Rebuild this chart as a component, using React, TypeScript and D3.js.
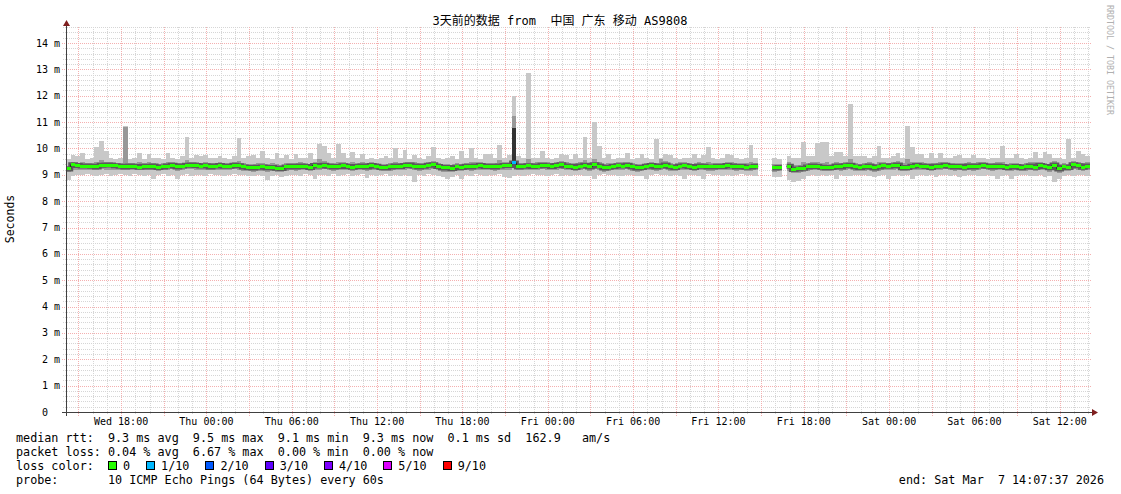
import React from 'react';
import * as d3 from 'd3';

// 3 days of smokeping data, 20 minute steps, end = Sat Mar 7 14:07:37 2026
const START = Date.UTC(2026, 2, 4, 14, 7, 37);
const END = Date.UTC(2026, 2, 7, 14, 7, 37);
const STEP = 20 * 60 * 1000;

// median rtt per step (ms), null = no data
const median = [
  9.22, 9.38, 9.35, 9.33, 9.33, 9.32, 9.30, 9.36, 9.37, 9.37, 9.34, 9.32,
  9.30, 9.33, 9.31, 9.29, 9.32, 9.30, 9.33, 9.28, 9.30, 9.33, 9.36, 9.30,
  9.33, 9.36, 9.37, 9.35, 9.33, 9.34, 9.30, 9.33, 9.35, 9.32, 9.32, 9.36,
  9.34, 9.30, 9.28, 9.26, 9.29, 9.30, 9.27, 9.28, 9.25, 9.24, 9.30, 9.32,
  9.30, 9.33, 9.31, 9.28, 9.35, 9.33, 9.36, 9.32, 9.30, 9.31, 9.34, 9.31,
  9.29, 9.31, 9.33, 9.30, 9.35, 9.32, 9.28, 9.27, 9.30, 9.33, 9.31, 9.35,
  9.37, 9.33, 9.30, 9.32, 9.36, 9.38, 9.31, 9.26, 9.28, 9.24, 9.30, 9.28,
  9.32, 9.30, 9.33, 9.35, 9.31, 9.32, 9.30, 9.33, 9.35, 9.35, 9.45, 9.30,
  9.32, 9.34, 9.31, 9.33, 9.36, 9.34, 9.31, 9.35, 9.38, 9.33, 9.31, 9.28,
  9.33, 9.36, 9.30, 9.38, 9.33, 9.26, 9.29, 9.31, 9.34, 9.33, 9.36, 9.30,
  9.26, 9.28, 9.32, 9.35, 9.30, 9.33, 9.37, 9.30, 9.28, 9.33, 9.34, 9.31,
  9.28, 9.33, 9.32, 9.30, 9.30, 9.32, 9.31, 9.35, 9.33, 9.30, 9.31, 9.29,
  9.30, 9.32, null, null, null, 9.26, 9.28, null, 9.32, 9.20, 9.22, 9.25,
  9.30, 9.33, 9.31, 9.29, 9.27, 9.28, 9.33, 9.30, 9.34, 9.36, 9.30, 9.28,
  9.30, 9.33, 9.26, 9.30, 9.34, 9.32, 9.34, 9.37, 9.27, 9.28, 9.32, 9.35,
  9.33, 9.31, 9.28, 9.32, 9.33, 9.36, 9.32, 9.30, 9.31, 9.29, 9.33, 9.30,
  9.33, 9.36, 9.32, 9.30, 9.33, 9.31, 9.28, 9.30, 9.31, 9.27, 9.30, 9.33,
  9.29, 9.35, 9.31, 9.27, 9.37, 9.22, 9.30, 9.28, 9.38, 9.34, 9.29, 9.33,
];

// slowest ping per step
const pingMax = [
  9.60, 9.75, 9.70, 9.83, 9.60, 9.65, 10.05, 10.28, 9.90, 9.65, 9.60, 9.62,
  10.85, 9.60, 9.65, 9.83, 9.60, 9.80, 9.62, 9.65, 9.60, 9.83, 9.65, 9.60,
  9.70, 10.43, 9.65, 9.75, 9.70, 9.75, 9.65, 9.62, 9.70, 9.65, 9.60, 9.72,
  10.40, 9.65, 9.70, 9.75, 9.65, 9.90, 9.62, 9.60, 9.83, 9.65, 9.76, 9.60,
  9.80, 9.62, 9.65, 9.83, 9.60, 10.17, 10.10, 9.83, 9.65, 10.17, 9.83, 9.62,
  9.87, 9.62, 9.80, 9.60, 9.65, 9.60, 9.62, 9.70, 9.65, 10.00, 9.65, 9.94,
  9.60, 9.76, 9.65, 9.60, 9.70, 10.05, 9.65, 9.60, 9.62, 9.70, 9.60, 9.90,
  9.62, 10.00, 9.65, 9.60, 9.80, 9.80, 9.62, 10.13, 9.65, 9.76, 12.00, 9.70,
  9.65, 12.86, 9.62, 9.65, 9.90, 9.62, 9.60, 9.65, 9.80, 9.76, 9.60, 9.80,
  9.65, 10.43, 9.62, 11.00, 10.10, 9.65, 9.80, 9.60, 9.62, 9.65, 9.83, 9.60,
  9.62, 9.80, 9.65, 9.60, 10.36, 9.65, 9.80, 9.76, 9.62, 9.60, 9.65, 9.62,
  9.80, 9.65, 9.76, 10.05, 9.62, 9.60, 9.65, 9.80, 9.76, 9.62, 9.60, 9.65,
  10.13, 9.62, null, null, null, 9.64, 9.60, null, 9.70, 9.65, 9.62, 10.25,
  9.70, 9.72, 10.20, 10.25, 10.25, 9.70, 9.87, 9.87, 9.70, 11.68, 9.70, 9.72,
  9.70, 9.65, 9.70, 10.10, 9.65, 9.62, 9.70, 9.83, 9.65, 10.85, 10.05, 9.80,
  9.80, 9.65, 9.83, 9.62, 9.83, 9.65, 9.62, 9.70, 9.76, 9.62, 9.65, 9.76,
  9.62, 9.65, 9.60, 9.62, 9.65, 10.10, 9.62, 9.65, 9.80, 9.62, 9.60, 9.65,
  9.87, 9.65, 9.87, 9.80, 9.65, 9.62, 9.60, 10.36, 9.65, 9.90, 9.80, 9.70,
];

// fastest ping per step
const pingMin = [
  8.80, 8.95, 9.00, 8.98, 9.02, 9.00, 8.97, 9.00, 9.02, 8.95, 9.00, 9.02,
  9.00, 8.97, 9.02, 9.00, 8.95, 8.98, 8.85, 9.00, 9.02, 8.97, 9.00, 8.85,
  9.00, 9.02, 8.97, 9.00, 9.00, 8.95, 9.02, 8.98, 9.00, 8.97, 9.00, 9.02,
  8.98, 9.00, 8.95, 8.97, 9.00, 8.95, 8.80, 8.95, 9.00, 8.92, 8.95, 8.98,
  9.00, 8.97, 9.02, 8.98, 8.85, 9.00, 9.00, 8.97, 9.02, 8.95, 9.00, 9.02,
  8.97, 9.00, 9.02, 8.88, 9.00, 8.97, 9.00, 9.02, 8.95, 9.00, 8.97, 9.00,
  8.95, 8.73, 9.00, 8.97, 9.02, 9.00, 8.95, 8.90, 8.85, 8.90, 9.00, 8.85,
  9.00, 8.97, 9.02, 9.00, 8.95, 9.00, 8.98, 9.02, 8.90, 8.88, 8.95, 9.00,
  8.97, 9.00, 9.02, 8.98, 9.00, 8.95, 9.00, 9.02, 8.97, 9.00, 8.95, 8.98,
  9.00, 8.97, 8.95, 8.85, 9.00, 9.02, 8.98, 9.00, 8.97, 8.95, 9.00, 9.00,
  8.97, 8.95, 8.85, 9.00, 9.02, 8.98, 9.00, 8.97, 9.00, 8.95, 8.85, 9.00,
  9.00, 8.97, 8.85, 9.02, 8.98, 9.00, 8.95, 9.00, 8.97, 9.00, 9.02, 8.98,
  9.00, 8.97, null, null, null, 8.90, 8.90, null, 8.80, 8.73, 8.75, 8.85,
  8.95, 9.00, 8.97, 9.00, 8.95, 8.98, 8.85, 9.00, 8.97, 8.95, 9.00, 8.98,
  9.00, 8.97, 8.90, 8.95, 8.98, 8.85, 8.97, 9.00, 8.95, 9.00, 8.85, 8.97,
  9.00, 8.97, 9.00, 8.90, 8.98, 9.00, 8.97, 9.00, 8.90, 8.95, 9.00, 8.98,
  8.95, 8.97, 9.00, 8.95, 8.85, 8.97, 9.00, 8.85, 8.97, 8.98, 9.00, 8.95,
  8.97, 9.00, 8.90, 8.95, 8.72, 8.85, 8.97, 9.00, 8.95, 8.98, 9.00, 8.97,
];

// inner smoke (2nd fastest / 2nd slowest ping)
const innerHigh = [
  9.35, 9.50, 9.45, 9.48, 9.44, 9.45, 9.50, 9.55, 9.50, 9.47, 9.44, 9.45,
  10.80, 9.46, 9.43, 9.50, 9.44, 9.47, 9.45, 9.42, 9.44, 9.48, 9.50, 9.44,
  9.46, 9.55, 9.50, 9.48, 9.45, 9.47, 9.43, 9.46, 9.50, 9.45, 9.44, 9.50,
  9.52, 9.44, 9.42, 9.40, 9.43, 9.45, 9.42, 9.44, 9.40, 9.38, 9.44, 9.46,
  9.45, 9.47, 9.44, 9.42, 9.50, 9.60, 9.52, 9.46, 9.44, 9.50, 9.48, 9.45,
  9.48, 9.44, 9.47, 9.44, 9.50, 9.45, 9.42, 9.41, 9.44, 9.50, 9.45, 9.50,
  9.50, 9.47, 9.44, 9.46, 9.50, 9.52, 9.45, 9.40, 9.42, 9.38, 9.44, 9.42,
  9.46, 9.48, 9.47, 9.50, 9.45, 9.46, 9.44, 9.55, 9.50, 9.48, 11.23, 9.45,
  9.46, 9.60, 9.45, 9.47, 9.50, 9.48, 9.45, 9.50, 9.52, 9.47, 9.45, 9.44,
  9.47, 9.55, 9.44, 9.60, 9.50, 9.40, 9.44, 9.45, 9.48, 9.47, 9.50, 9.44,
  9.40, 9.42, 9.46, 9.50, 9.44, 9.60, 9.52, 9.45, 9.42, 9.47, 9.48, 9.45,
  9.42, 9.47, 9.46, 9.50, 9.44, 9.46, 9.45, 9.50, 9.47, 9.44, 9.45, 9.43,
  9.50, 9.46, null, null, null, 9.40, 9.42, null, 9.48, 9.36, 9.38, 9.50,
  9.45, 9.48, 9.50, 9.45, 9.50, 9.42, 9.47, 9.44, 9.48, 9.60, 9.44, 9.42,
  9.45, 9.48, 9.40, 9.50, 9.48, 9.46, 9.48, 9.52, 9.45, 9.60, 9.50, 9.50,
  9.47, 9.45, 9.45, 9.46, 9.48, 9.50, 9.46, 9.44, 9.45, 9.43, 9.47, 9.45,
  9.47, 9.50, 9.46, 9.44, 9.47, 9.50, 9.42, 9.44, 9.45, 9.41, 9.44, 9.47,
  9.50, 9.50, 9.45, 9.42, 9.52, 9.38, 9.44, 9.42, 9.52, 9.48, 9.44, 9.47,
];

const innerLow = [
  9.10, 9.20, 9.20, 9.18, 9.20, 9.18, 9.20, 9.22, 9.20, 9.18, 9.17, 9.20,
  9.18, 9.20, 9.18, 9.17, 9.20, 9.17, 9.18, 9.15, 9.18, 9.20, 9.22, 9.16,
  9.20, 9.22, 9.22, 9.20, 9.18, 9.20, 9.17, 9.20, 9.20, 9.18, 9.18, 9.22,
  9.20, 9.16, 9.14, 9.12, 9.15, 9.16, 9.10, 9.14, 9.12, 9.10, 9.16, 9.18,
  9.16, 9.20, 9.18, 9.15, 9.20, 9.18, 9.22, 9.18, 9.16, 9.17, 9.20, 9.18,
  9.15, 9.18, 9.20, 9.16, 9.20, 9.18, 9.15, 9.14, 9.16, 9.20, 9.18, 9.20,
  9.22, 9.18, 9.16, 9.18, 9.20, 9.22, 9.17, 9.10, 9.12, 9.10, 9.16, 9.14,
  9.18, 9.16, 9.20, 9.20, 9.17, 9.18, 9.16, 9.20, 9.20, 9.20, 9.30, 9.17,
  9.18, 9.20, 9.17, 9.20, 9.22, 9.20, 9.17, 9.20, 9.22, 9.20, 9.17, 9.15,
  9.20, 9.22, 9.16, 9.22, 9.20, 9.12, 9.15, 9.17, 9.20, 9.20, 9.22, 9.16,
  9.12, 9.14, 9.18, 9.20, 9.16, 9.20, 9.22, 9.16, 9.14, 9.20, 9.20, 9.17,
  9.14, 9.20, 9.18, 9.16, 9.16, 9.18, 9.17, 9.20, 9.20, 9.16, 9.17, 9.15,
  9.16, 9.18, null, null, null, 9.12, 9.14, null, 9.15, 9.05, 9.08, 9.10,
  9.16, 9.20, 9.17, 9.15, 9.13, 9.15, 9.18, 9.16, 9.20, 9.22, 9.16, 9.14,
  9.16, 9.20, 9.12, 9.16, 9.20, 9.18, 9.20, 9.22, 9.13, 9.14, 9.18, 9.20,
  9.20, 9.17, 9.14, 9.18, 9.20, 9.22, 9.18, 9.16, 9.17, 9.15, 9.20, 9.16,
  9.20, 9.22, 9.18, 9.16, 9.20, 9.17, 9.14, 9.16, 9.17, 9.13, 9.16, 9.20,
  9.15, 9.20, 9.17, 9.12, 9.22, 9.08, 9.16, 9.14, 9.22, 9.20, 9.15, 9.18,
];

// steps with packet loss (index, lost pings of 10)
const lossStep = [94];
const lossCount = [1];
// steps where the core of the smoke went high
const darkStep = [94];
const darkTop = [10.78];

const lossLabels = ['0', '1/10', '2/10', '3/10', '4/10', '5/10', '9/10'];
const lossColors = ['#26ff00', '#00b8ff', '#0059ff', '#5e00ff', '#7e00ff', '#dd00ff', '#ff0000'];

const statsLines = [
  'median rtt:  9.3 ms avg  9.5 ms max  9.1 ms min  9.3 ms now  0.1 ms sd  162.9   am/s',
  'packet loss: 0.04 % avg  6.67 % max  0.00 % min  0.00 % now',
];
const probeLine = 'probe:       10 ICMP Echo Pings (64 Bytes) every 60s';
const endLine = 'end: Sat Mar  7 14:07:37 2026';
const title = '3天前的数据 from  中国 广东 移动 AS9808';

const MONO = '"DejaVu Sans Mono", monospace';
const CHAR_W = 7.08;

export default function App() {
  const x = d3.scaleUtc().domain([new Date(START), new Date(END)]).range([66, 1090]);
  const y = d3.scaleLinear().domain([0, 14.6]).range([412, 27.2]);
  const t0 = new Date(START), t1 = new Date(END);

  const hourTicks = d3.utcHour.every(1)!.range(t0, t1);
  const majorTicks = d3.utcHour.every(3)!.range(t0, t1);
  const labelTicks = d3.utcHour.every(6)!.range(t0, t1);
  const fmt = d3.utcFormat('%a %H:%M');
  const yMinor = d3.range(0, 74).map(k => k * 0.2);
  const yMajor = d3.range(0, 15);

  const sx = (i: number) => x(new Date(START + i * STEP));
  const crisp = (v: number) => Math.round(v) + 0.5;

  const lossOf = (i: number) => {
    const k = lossStep.indexOf(i);
    return k < 0 ? 0 : lossCount[k];
  };

  // median line (with vertical joins), broken where there is no data
  const medPts: [number, number | null][] = [];
  median.forEach((m, i) => {
    medPts.push([sx(i), m]);
    medPts.push([sx(i + 1), m]);
  });
  const medLine = d3.line<[number, number | null]>()
    .defined(d => d[1] != null)
    .x(d => d[0])
    .y(d => y(d[1] as number));

  const band = (lo: (number | null)[], hi: (number | null)[], fill: string, key: string) =>
    median.map((m, i) => {
      if (m == null || lo[i] == null || hi[i] == null) return null;
      const x0 = sx(i), x1 = sx(i + 1);
      return (
        <rect key={key + i} x={x0} width={x1 - x0} y={y(hi[i] as number)}
          height={y(lo[i] as number) - y(hi[i] as number)} fill={fill} />
      );
    });

  // loss legend layout
  let lx = 108;
  const legendItems = lossLabels.map((lab, k) => {
    const item = { x: lx, lab, color: lossColors[k] };
    lx += 15 + lab.length * CHAR_W + 16;
    return item;
  });

  return (
    <svg width={1121} height={494} style={{ position: 'absolute', left: 0, top: 0, background: '#fff' }}>
      <rect x={0} y={0} width={1121} height={494} fill="#ffffff" />

      {/* grid */}
      <g shapeRendering="crispEdges" strokeWidth={1} strokeDasharray="1,1">
        {yMinor.filter(v => Math.abs(v - Math.round(v)) > 0.01).map(v => (
          <line key={'hy' + v} x1={63} x2={1091} y1={crisp(y(v))} y2={crisp(y(v))} stroke="#d6d6d6" />
        ))}
        {hourTicks.filter(t => t.getUTCHours() % 3 !== 0).map(t => (
          <line key={'hx' + +t} x1={crisp(x(t))} x2={crisp(x(t))} y1={27} y2={414} stroke="#d6d6d6" />
        ))}
        {yMajor.slice(1).map(v => (
          <line key={'my' + v} x1={62} x2={1091} y1={crisp(y(v))} y2={crisp(y(v))} stroke="#f4b0b0" />
        ))}
        {majorTicks.map(t => (
          <line key={'mx' + +t} x1={crisp(x(t))} x2={crisp(x(t))} y1={27} y2={416} stroke="#f4b0b0" />
        ))}
      </g>

      {/* smoke */}
      <g shapeRendering="crispEdges">
        {band(pingMin, pingMax, '#c8c8c8', 'o')}
        {band(innerLow, innerHigh, '#989898', 'm')}
        {darkStep.map((i, k) => (
          <rect key={'d' + i} x={sx(i)} width={sx(i + 1) - sx(i)} y={y(darkTop[k])}
            height={y(median[i] as number) - y(darkTop[k])} fill="#333333" />
        ))}
      </g>

      {/* median */}
      <path d={medLine(medPts) || ''} fill="none" stroke="#5a5a5a" strokeWidth={5} />
      <path d={medLine(medPts) || ''} fill="none" stroke="#202020" strokeWidth={1} />
      <g shapeRendering="crispEdges">
        {median.map((m, i) => m == null ? null : (
          <rect key={'g' + i} x={sx(i)} width={sx(i + 1) - sx(i)} y={y(m) - 1.5} height={3}
            fill={lossColors[lossOf(i)]} />
        ))}
      </g>

      {/* axes */}
      <g shapeRendering="crispEdges" stroke="#404040">
        <line x1={66.5} x2={66.5} y1={24} y2={416} />
        <line x1={62} x2={1093} y1={412.5} y2={412.5} />
      </g>
      <path d="M63,26 L70,26 L66.5,20 Z" fill="#7f1f1f" />
      <path d="M1092,409 L1092,416 L1098,412.5 Z" fill="#7f1f1f" />

      {/* y labels */}
      <g fontFamily={MONO} fontSize={10} fill="#000">
        {yMajor.map(v => (
          <text key={'yl' + v} x={60} y={y(v)} textAnchor="end" dominantBaseline="central"
            xmlSpace="preserve">{v === 0 ? '0  ' : `${v} m`}</text>
        ))}
        {labelTicks.map(t => (
          <text key={'xl' + +t} x={x(t)} y={421} textAnchor="middle" dominantBaseline="central">{fmt(t)}</text>
        ))}
      </g>

      <text x={10} y={219} transform="rotate(-90 10 219)" textAnchor="middle" dominantBaseline="central"
        fontFamily={MONO} fontSize={11.5} fill="#000">Seconds</text>

      <text x={560} y={21} textAnchor="middle" dominantBaseline="central" xmlSpace="preserve"
        fontFamily={'"DejaVu Sans Mono", "Noto Sans CJK SC", monospace'} fontSize={12} fill="#000">{title}</text>

      <text x={1110} y={5} transform="rotate(90 1110 5)" dominantBaseline="central"
        fontFamily={MONO} fontSize={8.3} fill="#b0b0b0">RRDTOOL / TOBI OETIKER</text>

      {/* legend */}
      <g fontFamily={MONO} fontSize={11.75} fill="#000">
        {statsLines.map((s, k) => (
          <text key={'s' + k} x={16} y={438 + k * 14} dominantBaseline="central" xmlSpace="preserve">{s}</text>
        ))}
        <text x={16} y={466} dominantBaseline="central">loss color:</text>
        {legendItems.map(it => (
          <g key={'lg' + it.lab}>
            <rect x={it.x + 0.5} y={461.5} width={8} height={8} fill={it.color} stroke="#000" shapeRendering="crispEdges" />
            <text x={it.x + 15} y={466} dominantBaseline="central">{it.lab}</text>
          </g>
        ))}
        <text x={16} y={480} dominantBaseline="central" xmlSpace="preserve">{probeLine}</text>
        <text x={1104} y={480} textAnchor="end" dominantBaseline="central" xmlSpace="preserve">{endLine}</text>
      </g>
    </svg>
  );
}
